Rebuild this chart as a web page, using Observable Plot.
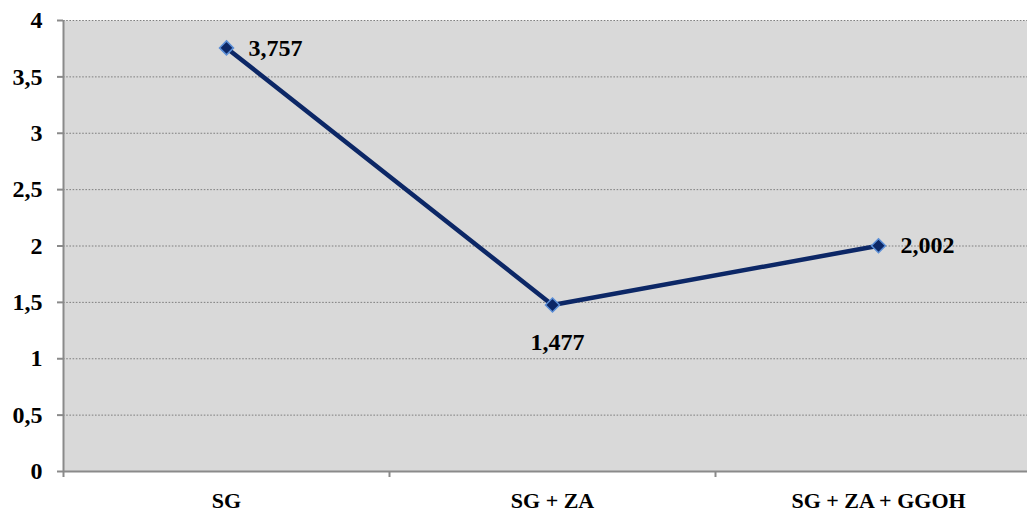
<!DOCTYPE html>
<html>
<head>
<meta charset="utf-8">
<script src="https://cdn.jsdelivr.net/npm/d3@7"></script>
<script src="https://cdn.jsdelivr.net/npm/@observablehq/plot@0.6"></script>
<style>
  html, body { margin: 0; padding: 0; background: #fff; overflow: hidden; }
  #chart svg { overflow: hidden; }
</style>
</head>
<body>
<div id="chart"></div>
<script>
// Treatment groups and measured values
const categories = ["SG", "SG + ZA", "SG + ZA + GGOH"];
const values = [3.757, 1.477, 2.002];
const yTicks = [0, 0.5, 1, 1.5, 2, 2.5, 3, 3.5, 4];

const comma = v => String(v).replace(".", ",");
const rows = categories.map((c, i) => ({ cat: c, pos: i + 0.5, value: values[i], idx: i }));
const lowest = d3.minIndex(values);
const boundaries = d3.range(categories.length + 1);
const centers = categories.map((c, i) => i + 0.5);

const font = "'Liberation Serif', 'Times New Roman', serif";
const navy = "#0c2766";
const axisGray = "#8a8a8a";

const chart = Plot.plot({
  width: 1027,
  height: 517,
  marginLeft: 63,
  marginRight: -14,
  marginTop: 20,
  marginBottom: 46,
  style: { fontFamily: font, fontWeight: "bold", fontSize: "24px", color: "#000", background: "#fff" },
  x: { type: "linear", domain: [0, categories.length] },
  y: { domain: [0, 4] },
  marks: [
    Plot.frame({ fill: "#d9d9d9", stroke: null }),
    Plot.gridY(yTicks.filter(t => t > 0), { stroke: "#7f7f7f", strokeOpacity: 1, strokeWidth: 1, strokeDasharray: "1.6,1.6" }),
    Plot.ruleY([0], { stroke: axisGray, strokeWidth: 2 }),
    Plot.ruleX([0], { stroke: axisGray, strokeWidth: 2 }),
    // y ticks and their labels
    Plot.axisY(yTicks, { tickSize: 6, tickFormat: () => "", stroke: axisGray, strokeWidth: 2, label: null }),
    Plot.text(yTicks, { y: d => d, text: comma, frameAnchor: "left", textAnchor: "end", dx: -21, fontSize: 24, fontWeight: "bold", fill: "#000" }),
    // x boundary ticks and category labels
    Plot.axisX(boundaries, { tickSize: 6, tickFormat: () => "", stroke: axisGray, strokeWidth: 2, label: null }),
    Plot.text(centers, { x: d => d, text: (d, i) => categories[i], frameAnchor: "bottom", lineAnchor: "top", dy: 21, fontSize: 22, fontWeight: "bold", fill: "#000" }),
    // series
    Plot.line(rows, { x: "pos", y: "value", stroke: navy, strokeWidth: 4.5 }),
    Plot.dot(rows, { x: "pos", y: "value", symbol: "diamond2", r: 6.3, fill: navy, stroke: "#5b8ed6", strokeWidth: 1.5 }),
    Plot.text(rows.filter(d => d.idx !== lowest), { x: "pos", y: "value", text: d => comma(d.value), textAnchor: "start", dx: 22, fontSize: 24, fontWeight: "bold", fill: "#000" }),
    Plot.text(rows.filter(d => d.idx === lowest), { x: "pos", y: "value", text: d => comma(d.value), textAnchor: "middle", dx: 5, dy: 37, fontSize: 24, fontWeight: "bold", fill: "#000" })
  ]
});
document.getElementById("chart").appendChild(chart);
</script>
</body>
</html>
